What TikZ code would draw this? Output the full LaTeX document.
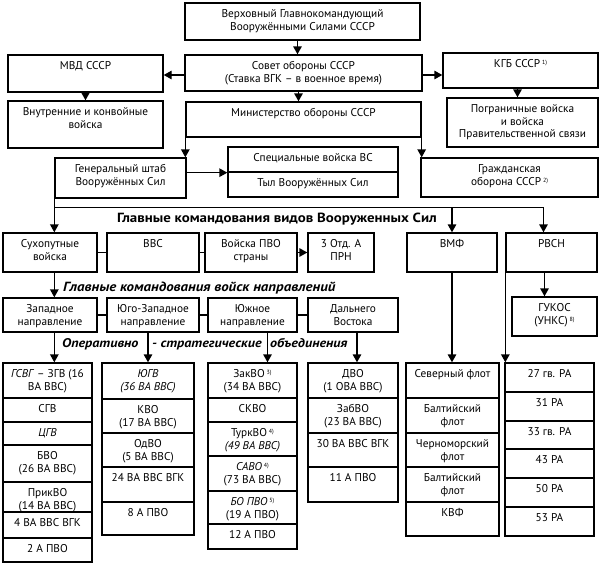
\documentclass[tikz,border=0pt]{standalone}
\usepackage{fontspec}
\setmainfont{PT Sans}
\newfontfamily\hfont[FakeStretch=1.12]{PT Sans}
\usetikzlibrary{arrows.meta,fit}
\newcommand\nt[1]{\,\raisebox{0.55ex}{\fontsize{6}{6}\selectfont #1}}
\newcommand\tdrop{7.2pt}
\newcommand\bxc[6]{%
  \node[box, fit={(#2,#3)(#4,#5)}] (#1) {};
  \node[txt] (#1-t) at ([yshift=-\tdrop]#1.north) {#6};}
\tikzset{
  box/.style={draw, line width=1.35pt, inner sep=0pt},
  txt/.style={font=\fontsize{11.3}{12.6}\selectfont, align=center, inner sep=0pt, anchor=north},
  arr/.style={line width=1.35pt, -{Triangle[length=8pt,width=8.5pt]}},
  ln/.style={line width=1.35pt},
  head/.style={font=\hfont\fontsize{13.3}{15}\selectfont\bfseries, inner sep=0pt},
  headi/.style={font=\hfont\fontsize{13.3}{15}\selectfont\bfseries\itshape, inner sep=0pt, anchor=west}
}
\begin{document}
\begin{tikzpicture}[x=1pt,y=-1pt]
\useasboundingbox (0,0) rectangle (600,565);
% top levels
\bxc{top}{185}{3}{420}{40}{Верховный Главнокомандующий\\Вооружёнными Силами СССР}
\bxc{sovet}{185}{55}{422}{91}{Совет обороны СССР\\(Ставка ВГК – в военное время)}
\bxc{mvd}{8}{55}{163}{92}{МВД СССР}
\bxc{vnutr}{8}{101}{163}{148}{Внутренние и конвойные\\войска}
\bxc{kgb}{443}{53}{598}{88}{КГБ СССР\nt{1)}}
\bxc{pogr}{447}{98}{598}{147}{Пограничные войска\\и войска\\Правительственной связи}
\bxc{min}{186}{102}{421}{137}{Министерство обороны СССР}
\bxc{gs}{55}{158}{186}{198}{Генеральный штаб\\Вооружённых Сил}
\bxc{spec}{228}{147}{398}{172}{Специальные войска ВС}
\bxc{tyl}{228}{172}{398}{197}{Тыл Вооружённых Сил}
\bxc{grazh}{421}{158}{598}{197}{Гражданская\\оборона СССР\nt{2)}}
% services
\node[head] (h1) at (277,219) {Главные командования видов Вооруженных Сил};
\bxc{sv}{3}{233}{97}{272}{Сухопутные\\войска}
\bxc{vvs}{107}{233}{199}{272}{ВВС}
\bxc{pvo}{205}{233}{297}{272}{Войска ПВО\\страны}
\bxc{prn}{308}{233}{374}{272}{3 Отд. А\\ПРН}
\bxc{vmf}{407}{233}{497}{272}{ВМФ}
\bxc{rvsn}{506}{233}{597}{272}{РВСН}
% directions
\node[headi] (h2) at (63,288) {Главные командования войск направлений};
\bxc{zap}{3}{298}{97}{332}{Западное\\направление}
\bxc{yuz}{107}{298}{199}{332}{Юго-Западное\\направление}
\bxc{yuzh}{208}{298}{297}{332}{Южное\\направление}
\bxc{dv}{308}{298}{398}{332}{Дальнего\\Востока}
\bxc{gukos}{512}{297}{597}{336}{ГУКОС\\(УНКС)\nt{8)}}
\node[headi, font=\hfont\fontsize{12.6}{15}\selectfont\bfseries\itshape] (h3) at (62,344) {\makebox[90pt][l]{Оперативно}\makebox[118pt][l]{- стратегические}объединения};
% column 1
\bxc{a1}{3}{363}{92}{398}{\textit{ГСВГ} – ЗГВ (16\\ВА ВВС)}
\bxc{a2}{3}{398}{92}{422}{СГВ}
\bxc{a3}{3}{422}{92}{445}{\textit{ЦГВ}}
\bxc{a4}{3}{445}{92}{482}{БВО\\(26 ВА ВВС)}
\bxc{a5}{3}{482}{92}{512}{ПрикВО\\(14 ВА ВВС)}
\bxc{a6}{3}{512}{92}{538}{4 ВА ВВС ВГК}
\bxc{a7}{3}{538}{92}{562}{2 А ПВО}
% column 2
\bxc{b1}{102}{363}{194}{399}{\textit{ЮГВ}\\\textit{(36 ВА ВВС)}}
\bxc{b2}{102}{399}{194}{433}{КВО\\(17 ВА ВВС)}
\bxc{b3}{102}{433}{194}{467}{ОдВО\\(5 ВА ВВС)}
\bxc{b4}{102}{467}{194}{502}{24 ВА ВВС ВГК}
\bxc{b5}{102}{502}{194}{535}{8 А ПВО}
% column 3
\bxc{c1}{208}{363}{297}{398}{ЗакВО\nt{3)}\\(34 ВА ВВС)}
\bxc{c2}{208}{398}{297}{422}{СКВО}
\bxc{c3}{208}{422}{297}{456}{ТуркВО\nt{4)}\\\textit{(49 ВА ВВС)}}
\bxc{c4}{208}{456}{297}{491}{\textit{САВО}\nt{4)}\\(73 ВА ВВС)}
\bxc{c5}{208}{491}{297}{524}{\textit{БО ПВО}\nt{5)}\\(19 А ПВО)}
\bxc{c6}{208}{524}{297}{549}{12 А ПВО}
% column 4
\bxc{d1}{308}{363}{398}{398}{ДВО\\(1 ОВА ВВС)}
\bxc{d2}{308}{398}{398}{433}{ЗабВО\\(23 ВА ВВС)}
\bxc{d3}{308}{433}{398}{467}{30 ВА ВВС ВГК}
\bxc{d4}{308}{467}{398}{502}{11 А ПВО}
% column 5
\bxc{e1}{406}{363}{499}{398}{Северный флот}
\bxc{e2}{406}{398}{499}{433}{Балтийский\\флот}
\bxc{e3}{406}{433}{499}{467}{Черноморский\\флот}
\bxc{e4}{406}{467}{499}{502}{Балтийский\\флот}
\bxc{e5}{406}{502}{499}{536}{КВФ}
% column 6
\bxc{f1}{505}{363}{594}{392}{27 гв. РА}
\bxc{f2}{505}{392}{594}{421}{31 РА}
\bxc{f3}{505}{421}{594}{449}{33 гв. РА}
\bxc{f4}{505}{449}{594}{478}{43 РА}
\bxc{f5}{505}{478}{594}{507}{50 РА}
\bxc{f6}{505}{507}{594}{536}{53 РА}
% connectors upper part
\draw[arr] ([xshift=-5pt]top.south) -- ([xshift=-5pt]top.south |- sovet.north);
\draw[arr] (sovet.west |- 0,75) -- (mvd.east |- 0,75);
\draw[arr] (sovet.east |- 0,75) -- (kgb.west |- 0,75);
\draw[arr] (mvd.south) -- (vnutr.north);
\draw[arr] ([xshift=-3pt]kgb.south) -- ([xshift=-3pt]kgb.south |- pogr.north);
\draw[arr] ([xshift=-5pt]sovet.south) -- ([xshift=-5pt]sovet.south |- min.north);
\draw[arr] (min.south west) -- (min.south west |- gs.north);
\draw[arr] (min.south east) -- (min.south east |- grazh.north);
\draw[arr] (gs.east |- spec.south west) -- (spec.south west);
% services level
\coordinate (hl) at ([yshift=-9pt]gs.south west);
\coordinate (hr) at ([xshift=-8pt]rvsn.north |- hl);
\draw[ln] (hl) -- (hr);
\draw[arr] (gs.south west) -- (gs.south west |- sv.north);
\draw[arr] (vmf.north |- hl) -- (vmf.north);
\draw[arr] (hr) -- (hr |- rvsn.north);
\draw[ln] (sv.east) -- (vvs.west);
\draw[ln] (vvs.east) -- (pvo.west);
\draw[arr] (pvo.east) -- (prn.west);
% directions level
\draw[arr] (gs.south west |- sv.south) -- (gs.south west |- zap.north);
\draw[arr] ([xshift=-7pt]rvsn.south) -- ([xshift=-7pt]rvsn.south |- gukos.north);
\draw[ln] (zap.east) -- (yuz.west);
\draw[ln] (yuz.east) -- (yuzh.west);
\draw[ln] (yuzh.east) -- (dv.west);
% operational level
\draw[arr] (gs.south west |- zap.south) -- (gs.south west |- a1.north);
\draw[arr] (b1.north |- yuz.south) -- (b1.north);
\draw[arr] ([xshift=15pt]c1.north |- yuzh.south) -- ([xshift=15pt]c1.north);
\draw[arr] ([xshift=4pt]d1.north |- dv.south) -- ([xshift=4pt]d1.north);
\draw[arr] (vmf.south) -- (vmf.south |- e1.north);
\draw[arr] (rvsn.south west) -- (rvsn.south west |- f1.north);
\end{tikzpicture}
\end{document}
